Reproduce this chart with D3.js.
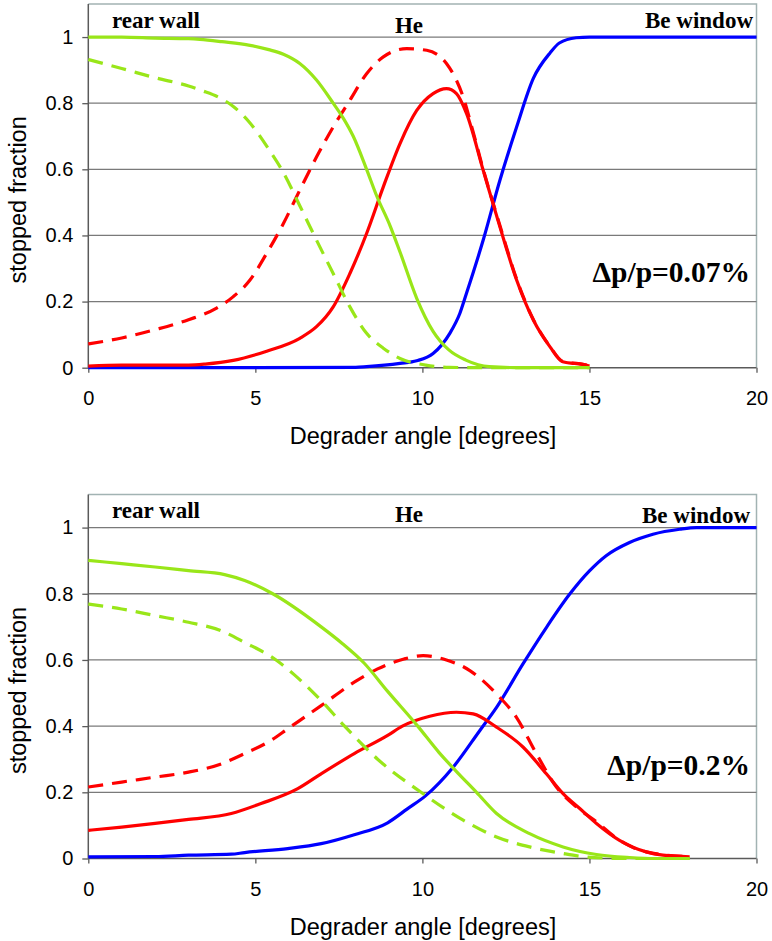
<!DOCTYPE html>
<html>
<head>
<meta charset="utf-8">
<script src="https://cdn.jsdelivr.net/npm/d3@7"></script>
<style>
  html, body { margin: 0; padding: 0; background: #fff; }
  svg { display: block; }
  .tick-label { font-family: "Liberation Sans", Arial, sans-serif; font-size: 20px; fill: #000; }
  .axis-title { font-family: "Liberation Sans", Arial, sans-serif; font-size: 23.5px; fill: #000; }
  .note { font-family: "Liberation Serif", "Times New Roman", serif; font-weight: bold; fill: #000; }
</style>
</head>
<body>
<svg id="chart" width="772" height="941"></svg>
<script>
// Degrader angle ticks and stopped-fraction ticks
const xTicks = [0, 5, 10, 15, 20];
const yTicks = [0, 0.2, 0.4, 0.6, 0.8, 1];
const yTickLabels = ["0", "0.2", "0.4", "0.6", "0.8", "1"];

// Δp/p = 0.07% : [angle, stopped fraction]
const rearWall007 = [[0,1.0],[1,1.0],[2,0.997],[3,0.995],[3.34,0.993],[4,0.986],[4.84,0.975],[5.4,0.962],[5.84,0.948],[6.33,0.92],[6.83,0.87],[7.33,0.80],[7.63,0.755],[7.93,0.70],[8.33,0.60],[8.63,0.52],[9.03,0.43],[9.33,0.35],[9.83,0.21],[10.32,0.11],[10.8,0.053],[11.3,0.023],[12,0.003],[13,0],[15,0]];
const rearWall007b = [[0,0.932],[1,0.905],[2,0.877],[3,0.852],[3.4,0.838],[3.9,0.818],[4.34,0.79],[4.84,0.74],[5.34,0.67],[5.84,0.59],[6.33,0.49],[6.83,0.386],[7.33,0.285],[7.83,0.184],[8.33,0.104],[8.83,0.059],[9.33,0.028],[10.1,0.008],[10.8,0.001],[12,0],[15,0]];
const helium007 = [[0,0.005],[1,0.008],[2,0.008],[3,0.008],[3.5,0.011],[4.34,0.022],[5.34,0.05],[6.33,0.089],[6.83,0.124],[7.33,0.184],[7.83,0.285],[8.33,0.406],[8.83,0.547],[9.33,0.678],[9.83,0.778],[10.32,0.829],[10.72,0.844],[11.02,0.829],[11.32,0.769],[11.82,0.597],[12.32,0.426],[12.82,0.265],[13.32,0.144],[13.82,0.063],[14.2,0.018],[14.9,0.008],[15,0.005]];
const helium007b = [[0,0.072],[1,0.09],[2,0.115],[3,0.145],[3.84,0.18],[4.34,0.215],[4.84,0.265],[5.34,0.346],[5.84,0.436],[6.33,0.537],[6.83,0.637],[7.33,0.728],[7.83,0.809],[8.33,0.889],[8.83,0.94],[9.53,0.965],[10.13,0.96],[10.72,0.92],[11.02,0.869],[11.22,0.819],[11.5,0.72],[11.82,0.6],[12.32,0.43],[12.82,0.268],[13.32,0.146],[13.82,0.064],[14.2,0.019],[14.9,0.008],[15,0.005]];
const beWindow007 = [[0,0],[5,0],[8,0.001],[8.33,0.003],[9.33,0.013],[9.83,0.021],[10.32,0.043],[10.82,0.104],[11.12,0.164],[11.32,0.225],[11.82,0.386],[12.32,0.567],[12.82,0.728],[13.32,0.875],[13.82,0.952],[14.1,0.982],[14.6,0.998],[15,1],[20,1]];

// Δp/p = 0.2% : [angle, stopped fraction]
const rearWall02 = [[0,0.901],[1,0.891],[2,0.881],[3,0.870],[4.08,0.858],[4.68,0.840],[5.52,0.8],[6.97,0.7],[7.6,0.65],[8.26,0.59],[8.96,0.505],[9.86,0.4],[10.5,0.32],[11.0,0.265],[11.62,0.2],[12.22,0.136],[13.21,0.075],[14.21,0.035],[15.21,0.012],[16.2,0.003],[17,0],[18,0]];
const rearWall02b = [[0,0.769],[1,0.754],[2,0.734],[3,0.714],[3.98,0.688],[4.68,0.653],[5.62,0.6],[6.17,0.555],[6.97,0.477],[7.67,0.4],[8.66,0.3],[9.96,0.2],[11.22,0.116],[12.22,0.065],[13.21,0.035],[14.21,0.015],[14.7,0.007],[15.5,0.001],[16,0],[18,0]];
const helium02 = [[0,0.085],[1,0.095],[2,0.106],[3,0.118],[4.28,0.136],[5.17,0.166],[6.27,0.211],[6.97,0.256],[7.96,0.317],[8.96,0.372],[9.4,0.4],[10.22,0.43],[11.02,0.442],[11.52,0.437],[12.22,0.397],[13.01,0.337],[13.71,0.256],[14.21,0.196],[14.71,0.151],[15.21,0.106],[15.9,0.055],[16.7,0.02],[17.2,0.01],[18,0.005]];
const helium02b = [[0,0.216],[1,0.231],[2,0.246],[3,0.261],[3.98,0.286],[4.68,0.317],[5.47,0.357],[5.97,0.392],[6.97,0.462],[7.96,0.533],[8.66,0.573],[9.45,0.603],[10.02,0.613],[10.72,0.6],[11.42,0.568],[12.22,0.497],[12.81,0.427],[13.41,0.317],[14.01,0.216],[14.61,0.156],[15.21,0.111],[15.9,0.055],[16.7,0.02],[18,0.005]];
const beWindow02 = [[0,0.005],[2,0.006],[3,0.01],[4.28,0.013],[4.68,0.018],[5.97,0.03],[6.97,0.045],[7.96,0.072],[8.96,0.108],[9.55,0.15],[10.1,0.19],[10.92,0.276],[11.72,0.387],[12.22,0.457],[13.01,0.588],[13.71,0.698],[14.41,0.799],[15.0,0.869],[15.5,0.915],[16.2,0.955],[16.9,0.98],[17.7,0.995],[18.2,1.0],[20,1]];

const GREEN = "#99e619", RED = "#ff0000", BLUE = "#0000ff";

const svg = d3.select("#chart");

function drawPanel(cfg) {
  const left = 88.3, right = 756.5;
  const x = d3.scaleLinear().domain([0, 20]).range([left, right]);
  const y = d3.scaleLinear().domain([0, 1.1]).range([cfg.bottom, cfg.top]);
  const g = svg.append("g");

  // plot frame (top and right edges)
  g.append("path")
    .attr("d", `M${left},${cfg.top}H${right}V${y(0)}`)
    .attr("fill", "none").attr("stroke", "#a2b3b3").attr("stroke-width", 1.5);

  // horizontal gridlines
  g.selectAll(".grid").data(yTicks.filter(v => v > 0)).enter().append("line")
    .attr("x1", left).attr("x2", right)
    .attr("y1", d => y(d)).attr("y2", d => y(d))
    .attr("stroke", "#7a7a7a").attr("stroke-width", 1.3);

  // y axis
  const yAxis = d3.axisLeft(y).tickValues(yTicks).tickSize(6)
    .tickFormat((d, i) => yTickLabels[i]).tickPadding(9);
  const ya = g.append("g").attr("transform", `translate(${left},0)`).call(yAxis);
  ya.select(".domain").attr("stroke", "#5a5a5a").attr("stroke-width", 1.5)
    .attr("d", `M0,${cfg.top}V${y(0)}`);
  ya.selectAll(".tick line").attr("stroke", "#5a5a5a").attr("stroke-width", 1.3);
  ya.selectAll(".tick text").attr("class", "tick-label").attr("font-size", null).attr("font-family", null);

  // x axis
  const xAxis = d3.axisBottom(x).tickValues(xTicks).tickSize(5).tickPadding(18).tickFormat(d3.format("d"));
  const xa = g.append("g").attr("transform", `translate(0,${y(0)})`).call(xAxis);
  xa.select(".domain").attr("stroke", "#5a5a5a").attr("stroke-width", 1.5).attr("d", `M${left},0H${right}`);
  xa.selectAll(".tick line").attr("stroke", "#5a5a5a").attr("stroke-width", 1.3);
  xa.selectAll(".tick text").attr("class", "tick-label").attr("font-size", null).attr("font-family", null);

  // axis titles
  g.append("text").attr("class", "axis-title")
    .attr("x", 423).attr("y", y(0) + 76)
    .attr("text-anchor", "middle").text("Degrader angle [degrees]");
  g.append("text").attr("class", "axis-title")
    .attr("transform", `translate(26,${(y(0) + y(1.1)) / 2 + 14}) rotate(-90)`)
    .attr("text-anchor", "middle").text("stopped fraction");

  // curves
  const line = d3.line().x(d => x(d[0])).y(d => y(d[1])).curve(d3.curveMonotoneX);
  const series = [
    { data: cfg.be, color: BLUE, dash: null },
    { data: cfg.heB, color: RED, dash: "15,9" },
    { data: cfg.he, color: RED, dash: null },
    { data: cfg.rwB, color: GREEN, dash: "15,9" },
    { data: cfg.rw, color: GREEN, dash: null }
  ];
  g.selectAll(".curve").data(series).enter().append("path")
    .attr("d", d => line(d.data))
    .attr("fill", "none")
    .attr("stroke", d => d.color)
    .attr("stroke-width", 3.2)
    .attr("stroke-dasharray", d => d.dash)
    .attr("stroke-linejoin", "round");

  // region labels
  g.append("text").attr("class", "note").attr("font-size", 23)
    .attr("x", 112).attr("y", cfg.labelY).text("rear wall");
  g.append("text").attr("class", "note").attr("font-size", 23)
    .attr("x", 409).attr("y", cfg.heY).attr("text-anchor", "middle").text("He");
  g.append("text").attr("class", "note").attr("font-size", 23)
    .attr("x", cfg.beX).attr("y", cfg.beY).attr("text-anchor", "end").text("Be window");
  g.append("text").attr("class", "note").attr("font-size", 29.5)
    .attr("x", 750).attr("y", cfg.dpY).attr("text-anchor", "end").text(cfg.dp);
}

drawPanel({ top: 4, bottom: 367.7, rw: rearWall007, rwB: rearWall007b, he: helium007, heB: helium007b, be: beWindow007,
  labelY: 28, heY: 33, beX: 753, beY: 28, dpY: 282, dp: "Δp/p=0.07%" });
drawPanel({ top: 494.5, bottom: 858.5, rw: rearWall02, rwB: rearWall02b, he: helium02, heB: helium02b, be: beWindow02,
  labelY: 518, heY: 522, beX: 750, beY: 523, dpY: 775, dp: "Δp/p=0.2%" });
</script>
</body>
</html>
